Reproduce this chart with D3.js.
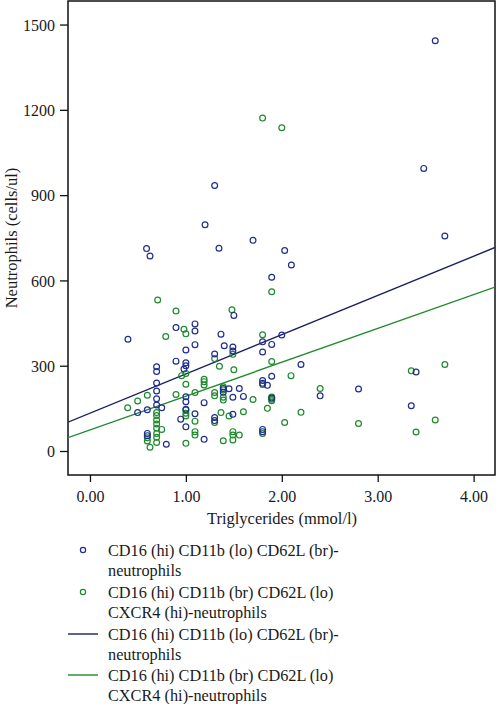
<!DOCTYPE html>
<html>
<head>
<meta charset="utf-8">
<script src="https://cdn.jsdelivr.net/npm/d3@7"></script>
<style>
  html, body { margin: 0; padding: 0; background: #fff; }
  svg { display: block; }
  text { font-family: "Liberation Serif", "DejaVu Serif", serif; fill: #1a1a1a; }
</style>
</head>
<body>
<svg id="chart" width="496" height="704"></svg>
<script>
// ---- data ----
const blueX = [3.60,3.48,3.70,1.70,2.03,1.30,1.20,0.59,1.345,0.626,2.10,1.895,1.50,1.095,1.095,1.095,1.366,1.40,1.80,1.895,2.00,1.49,1.49,1.30,1.80,2.20,0.897,0.396,1.00,0.897,1.00,1.00,0.98,0.695,0.695,0.695,0.695,1.00,0.695,0.695,0.598,0.748,0.497,1.00,1.095,0.946,1.00,0.598,0.598,0.796,1.39,1.39,1.45,1.557,1.49,1.60,1.80,1.80,1.85,1.895,1.895,2.40,1.19,1.30,1.30,1.49,1.19,1.80,1.80,2.80,3.40,3.35,1.00];
const blueY = [1443,994,756,741,705,934,796,712,713,686,654,611,477,447,422,374,411,370,384,375,408,366,352,341,348,304,434,393,355,316,310,300,288,296,280,239,211,191,184,162,145,152,135,147,131,112,85,62,54,24,220,207,219,220,189,192,248,238,231,263,186,194,170,118,107,129,41,76,68,218,278,159,173];

const greenX = [1.80,2.00,1.895,1.48,0.706,0.897,0.98,1.00,0.79,1.80,1.49,1.30,1.35,1.50,1.895,0.956,1.00,1.00,0.897,0.598,0.497,0.393,0.695,1.095,1.00,0.695,0.695,0.695,0.695,0.695,0.695,0.748,1.095,1.095,1.095,0.598,0.626,1.00,1.19,1.19,1.19,1.39,1.39,1.30,1.30,1.39,1.39,1.70,1.80,1.895,1.895,2.096,2.40,1.366,1.30,1.45,1.60,1.85,2.20,2.03,1.39,1.49,1.49,1.49,1.557,1.80,2.80,3.35,3.70,3.60,3.40,1.00,1.00,0.598,1.895,0.695];
const greenY = [1171,1137,560,497,531,492,428,412,403,409,340,325,298,286,315,265,273,235,199,196,176,152,135,206,123,109,95,80,62,48,30,76,105,68,56,35,13,27,252,244,232,226,215,206,194,189,179,181,234,190,182,265,220,135,100,123,138,150,136,100,36,68,56,39,56,62,97,282,304,109,67,144,133,47,177,125];

// regression lines (intercept, slope)
const lineIntercepts = [133, 74];
const lineSlopes = [138, 119];

const xTicks = [0, 1, 2, 3, 4];
const yTicks = [0, 300, 600, 900, 1200, 1500];
const xDomain = [-0.229, 4.223];
const yDomain = [-84.4, 1582.8];

const legendLabels = [
  ["CD16 (hi) CD11b (lo) CD62L (br)-", "neutrophils"],
  ["CD16 (hi) CD11b (br) CD62L (lo)", "CXCR4 (hi)-neutrophils"]
];

// ---- styles ----
const pointColors = ["#1f2e8e", "#1d8a2c"];
const lineColors = ["#1c1f5e", "#1f8a2a"];
const tickFont = 16, titleFont = 16.5, legendFont = 16.3;

const svg = d3.select("#chart");
const L = 68, R = 495, T = 1, B = 475;

const x = d3.scaleLinear().domain(xDomain).range([L, R]);
const y = d3.scaleLinear().domain(yDomain).range([B, T]);

// frame
svg.append("rect")
  .attr("x", L).attr("y", T).attr("width", R - L).attr("height", B - T)
  .attr("fill", "none").attr("stroke", "#111").attr("stroke-width", 1.5);

// axes
const xAxis = d3.axisBottom(x).tickValues(xTicks).tickFormat(d3.format(".2f")).tickSize(7).tickSizeOuter(0);
const gx = svg.append("g").attr("transform", `translate(0,${B})`).call(xAxis);
gx.select(".domain").remove();
gx.selectAll("line").attr("stroke", "#111").attr("stroke-width", 1.3);
gx.selectAll("text").attr("font-size", tickFont).attr("dy", "0").attr("y", 27)
  .style("font-family", '"Liberation Serif", serif').attr("fill", "#1a1a1a");

const yAxis = d3.axisLeft(y).tickValues(yTicks).tickFormat(d3.format("d")).tickSize(8).tickSizeOuter(0);
const gy = svg.append("g").attr("transform", `translate(${L},0)`).call(yAxis);
gy.select(".domain").remove();
gy.selectAll("line").attr("stroke", "#111").attr("stroke-width", 1.3);
gy.selectAll("text").attr("font-size", tickFont).attr("x", -13).attr("dy", "0.35em")
  .style("font-family", '"Liberation Serif", serif').attr("fill", "#1a1a1a");

// axis titles
svg.append("text").attr("x", 282).attr("y", 524).attr("text-anchor", "middle")
  .attr("font-size", titleFont).text("Triglycerides (mmol/l)");
svg.append("text").attr("transform", "translate(17,238) rotate(-90)")
  .attr("text-anchor", "middle").attr("font-size", titleFont).text("Neutrophils (cells/ul)");

// clip
svg.append("clipPath").attr("id", "clip").append("rect")
  .attr("x", L).attr("y", T).attr("width", R - L).attr("height", B - T);
const plot = svg.append("g").attr("clip-path", "url(#clip)");

// regression lines
lineIntercepts.forEach((b, i) => {
  const m = lineSlopes[i];
  plot.append("line")
    .attr("x1", x(xDomain[0])).attr("y1", y(b + m * xDomain[0]))
    .attr("x2", x(xDomain[1])).attr("y2", y(b + m * xDomain[1]))
    .attr("stroke", lineColors[i]).attr("stroke-width", 1.4);
});

// points
const series = [
  blueX.map((d, i) => [d, blueY[i]]),
  greenX.map((d, i) => [d, greenY[i]])
];
[1, 0].forEach(s => {
  plot.append("g").selectAll("circle").data(series[s]).join("circle")
    .attr("cx", d => x(d[0])).attr("cy", d => y(d[1])).attr("r", 2.9)
    .attr("fill", "none").attr("stroke", pointColors[s]).attr("stroke-width", 1.2);
});

// legend
const lg = svg.append("g");
const rowY = [550, 570, 592, 612, 634, 654, 675, 695];
const textX = 108;
[0, 1].forEach(i => {
  lg.append("circle").attr("cx", 83).attr("cy", rowY[i * 2]).attr("r", 2.6)
    .attr("fill", "none").attr("stroke", pointColors[i]).attr("stroke-width", 1.2);
  lg.append("text").attr("x", textX).attr("y", rowY[i * 2]).attr("dy", "0.35em")
    .attr("font-size", legendFont).text(legendLabels[i][0]);
  lg.append("text").attr("x", textX).attr("y", rowY[i * 2 + 1]).attr("dy", "0.35em")
    .attr("font-size", legendFont).text(legendLabels[i][1]);
});
[0, 1].forEach(i => {
  const r0 = 4 + i * 2;
  lg.append("line").attr("x1", 68).attr("x2", 98).attr("y1", rowY[r0]).attr("y2", rowY[r0])
    .attr("stroke", lineColors[i]).attr("stroke-width", 1.4);
  lg.append("text").attr("x", textX).attr("y", rowY[r0]).attr("dy", "0.35em")
    .attr("font-size", legendFont).text(legendLabels[i][0]);
  lg.append("text").attr("x", textX).attr("y", rowY[r0 + 1]).attr("dy", "0.35em")
    .attr("font-size", legendFont).text(legendLabels[i][1]);
});
</script>
</body>
</html>
